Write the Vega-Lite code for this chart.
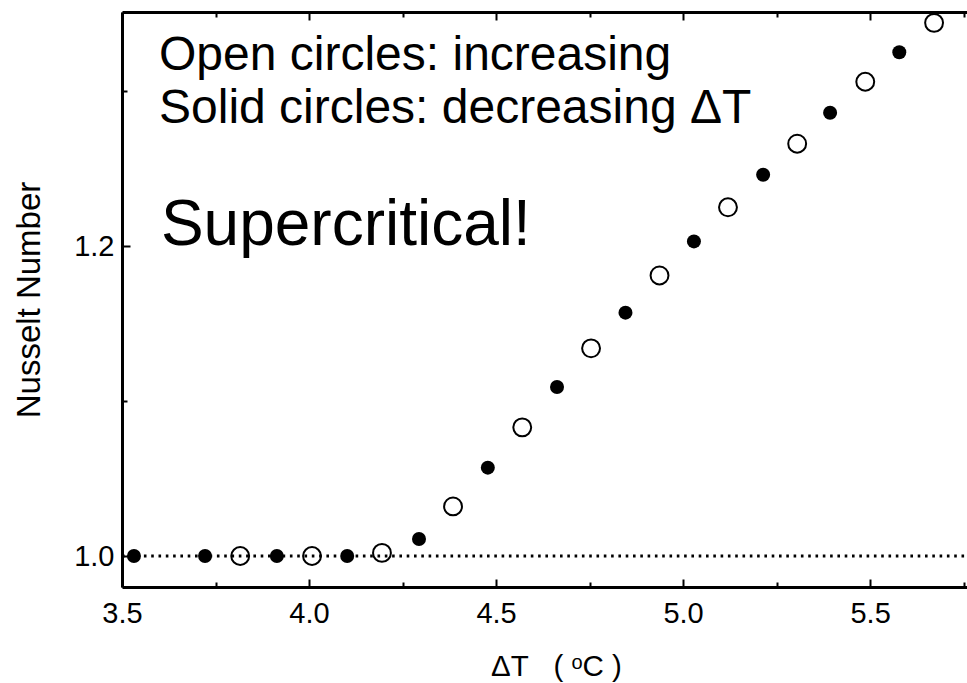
{
  "$schema": "https://vega.github.io/schema/vega-lite/v6.json",
  "width": 845,
  "height": 575,
  "autosize": {"type": "none"},
  "padding": {"left": 122, "top": 12, "right": 0, "bottom": 96},
  "background": "white",
  "config": {
    "view": {"stroke": null},
    "font": "Liberation Sans",
    "axis": {
      "domainColor": "black",
      "domainWidth": 3,
      "tickColor": "black",
      "tickWidth": 2,
      "ticks": true,
      "labelColor": "black",
      "labelFont": "Liberation Sans",
      "labelFontSize": 29,
      "titleFont": "Liberation Sans",
      "titleColor": "black",
      "titleFontWeight": "normal",
      "grid": false,
      "zindex": 1
    }
  },
  "data": {
    "values": [
      {"dT": 3.532, "Nu": 1.0, "dir": "decreasing"},
      {"dT": 3.722, "Nu": 1.0, "dir": "decreasing"},
      {"dT": 3.816, "Nu": 1.0, "dir": "increasing"},
      {"dT": 3.914, "Nu": 1.0, "dir": "decreasing"},
      {"dT": 4.008, "Nu": 1.0, "dir": "increasing"},
      {"dT": 4.102, "Nu": 1.0, "dir": "decreasing"},
      {"dT": 4.195, "Nu": 1.002, "dir": "increasing"},
      {"dT": 4.294, "Nu": 1.011, "dir": "decreasing"},
      {"dT": 4.385, "Nu": 1.032, "dir": "increasing"},
      {"dT": 4.478, "Nu": 1.057, "dir": "decreasing"},
      {"dT": 4.570, "Nu": 1.083, "dir": "increasing"},
      {"dT": 4.663, "Nu": 1.109, "dir": "decreasing"},
      {"dT": 4.754, "Nu": 1.134, "dir": "increasing"},
      {"dT": 4.846, "Nu": 1.157, "dir": "decreasing"},
      {"dT": 4.937, "Nu": 1.181, "dir": "increasing"},
      {"dT": 5.029, "Nu": 1.203, "dir": "decreasing"},
      {"dT": 5.120, "Nu": 1.225, "dir": "increasing"},
      {"dT": 5.214, "Nu": 1.246, "dir": "decreasing"},
      {"dT": 5.305, "Nu": 1.266, "dir": "increasing"},
      {"dT": 5.393, "Nu": 1.286, "dir": "decreasing"},
      {"dT": 5.487, "Nu": 1.306, "dir": "increasing"},
      {"dT": 5.578, "Nu": 1.325, "dir": "decreasing"},
      {"dT": 5.671, "Nu": 1.344, "dir": "increasing"}
    ]
  },
  "layer": [
    {
      "data": {"values": [{"from": 3.5, "to": 5.759, "level": 1.0}]},
      "mark": {"type": "rule", "color": "black", "strokeWidth": 3, "strokeDash": [2.6, 4.7]},
      "encoding": {
        "x": {
          "field": "from",
          "type": "quantitative",
          "scale": {"domain": [3.5, 5.759], "zero": false, "nice": false},
          "axis": {
            "orient": "top",
            "ticks": false,
            "labels": false,
            "domain": true,
            "title": null
          }
        },
        "x2": {"field": "to"},
        "y": {
          "field": "level",
          "type": "quantitative",
          "scale": {"domain": [0.98, 1.351], "zero": false, "nice": false},
          "axis": {
            "orient": "left",
            "values": [1.0, 1.2],
            "format": ".1f",
            "ticks": false,
            "labelPadding": 8,
            "title": "Nusselt Number",
            "titleFontSize": 33,
            "titleX": -93,
            "titleBaseline": "middle"
          }
        }
      }
    },
    {
      "transform": [{"filter": "datum.dir === 'increasing'"}],
      "mark": {"type": "point", "shape": "circle", "filled": false, "stroke": "black", "strokeWidth": 2, "size": 320, "opacity": 1},
      "encoding": {
        "x": {
          "field": "dT",
          "type": "quantitative",
          "axis": {
            "orient": "bottom",
            "values": [3.5, 4.0, 4.5, 5.0, 5.5],
            "format": ".1f",
            "ticks": false,
            "labelPadding": 12,
            "labelFlush": false,
            "title": "ΔT\u00a0\u00a0\u00a0(\u00a0ᵒC\u00a0)",
            "titleFontSize": 29.5,
            "titleX": 434,
            "titleY": 88,
            "titleAlign": "center",
            "titleBaseline": "alphabetic"
          }
        },
        "y": {
          "field": "Nu",
          "type": "quantitative",
          "axis": {
            "orient": "left",
            "values": [1.0, 1.2],
            "offset": -8,
            "ticks": true,
            "tickSize": 8,
            "labels": false,
            "domain": false,
            "title": null
          }
        }
      }
    },
    {
      "transform": [{"filter": "datum.dir === 'decreasing'"}],
      "mark": {"type": "point", "shape": "circle", "filled": true, "fill": "black", "size": 196, "opacity": 1},
      "encoding": {
        "x": {
          "field": "dT",
          "type": "quantitative",
          "axis": {
            "orient": "top",
            "values": [3.5, 4.0, 4.5, 5.0, 5.5],
            "offset": -8,
            "ticks": true,
            "tickSize": 8,
            "labels": false,
            "domain": false,
            "title": null
          }
        },
        "y": {
          "field": "Nu",
          "type": "quantitative",
          "axis": {
            "orient": "left",
            "values": [1.1, 1.3],
            "offset": -5,
            "ticks": true,
            "tickSize": 5,
            "labels": false,
            "domain": false,
            "title": null
          }
        }
      }
    },
    {
      "data": {"values": [{"label": "Open circles: increasing"}]},
      "mark": {"type": "text", "fontSize": 48, "align": "left", "baseline": "alphabetic", "color": "black"},
      "encoding": {
        "text": {"field": "label"},
        "x": {
          "datum": 3.599,
          "type": "quantitative",
          "axis": {
            "orient": "bottom",
            "values": [3.5, 4.0, 4.5, 5.0, 5.5],
            "offset": -8,
            "ticks": true,
            "tickSize": 8,
            "labels": false,
            "domain": false,
            "title": null
          }
        },
        "y": {"datum": 1.3135, "type": "quantitative", "axis": null}
      }
    },
    {
      "data": {"values": [{"label": "Solid circles: decreasing ΔT"}]},
      "mark": {"type": "text", "fontSize": 48, "align": "left", "baseline": "alphabetic", "color": "black"},
      "encoding": {
        "text": {"field": "label"},
        "x": {
          "datum": 3.599,
          "type": "quantitative",
          "axis": {
            "orient": "bottom",
            "values": [3.75, 4.25, 4.75, 5.25, 5.75],
            "offset": -5,
            "ticks": true,
            "tickSize": 5,
            "labels": false,
            "domain": false,
            "title": null
          }
        },
        "y": {"datum": 1.2794, "type": "quantitative", "axis": null}
      }
    },
    {
      "data": {"values": [{"label": "Supercritical!"}]},
      "mark": {"type": "text", "fontSize": 64, "align": "left", "baseline": "alphabetic", "color": "black"},
      "encoding": {
        "text": {"field": "label"},
        "x": {
          "datum": 3.604,
          "type": "quantitative",
          "axis": {
            "orient": "top",
            "values": [3.75, 4.25, 4.75, 5.25, 5.75],
            "offset": -5,
            "ticks": true,
            "tickSize": 5,
            "labels": false,
            "domain": false,
            "title": null
          }
        },
        "y": {"datum": 1.2006, "type": "quantitative", "axis": null}
      }
    }
  ],
  "resolve": {"axis": {"x": "independent", "y": "independent"}}
}
